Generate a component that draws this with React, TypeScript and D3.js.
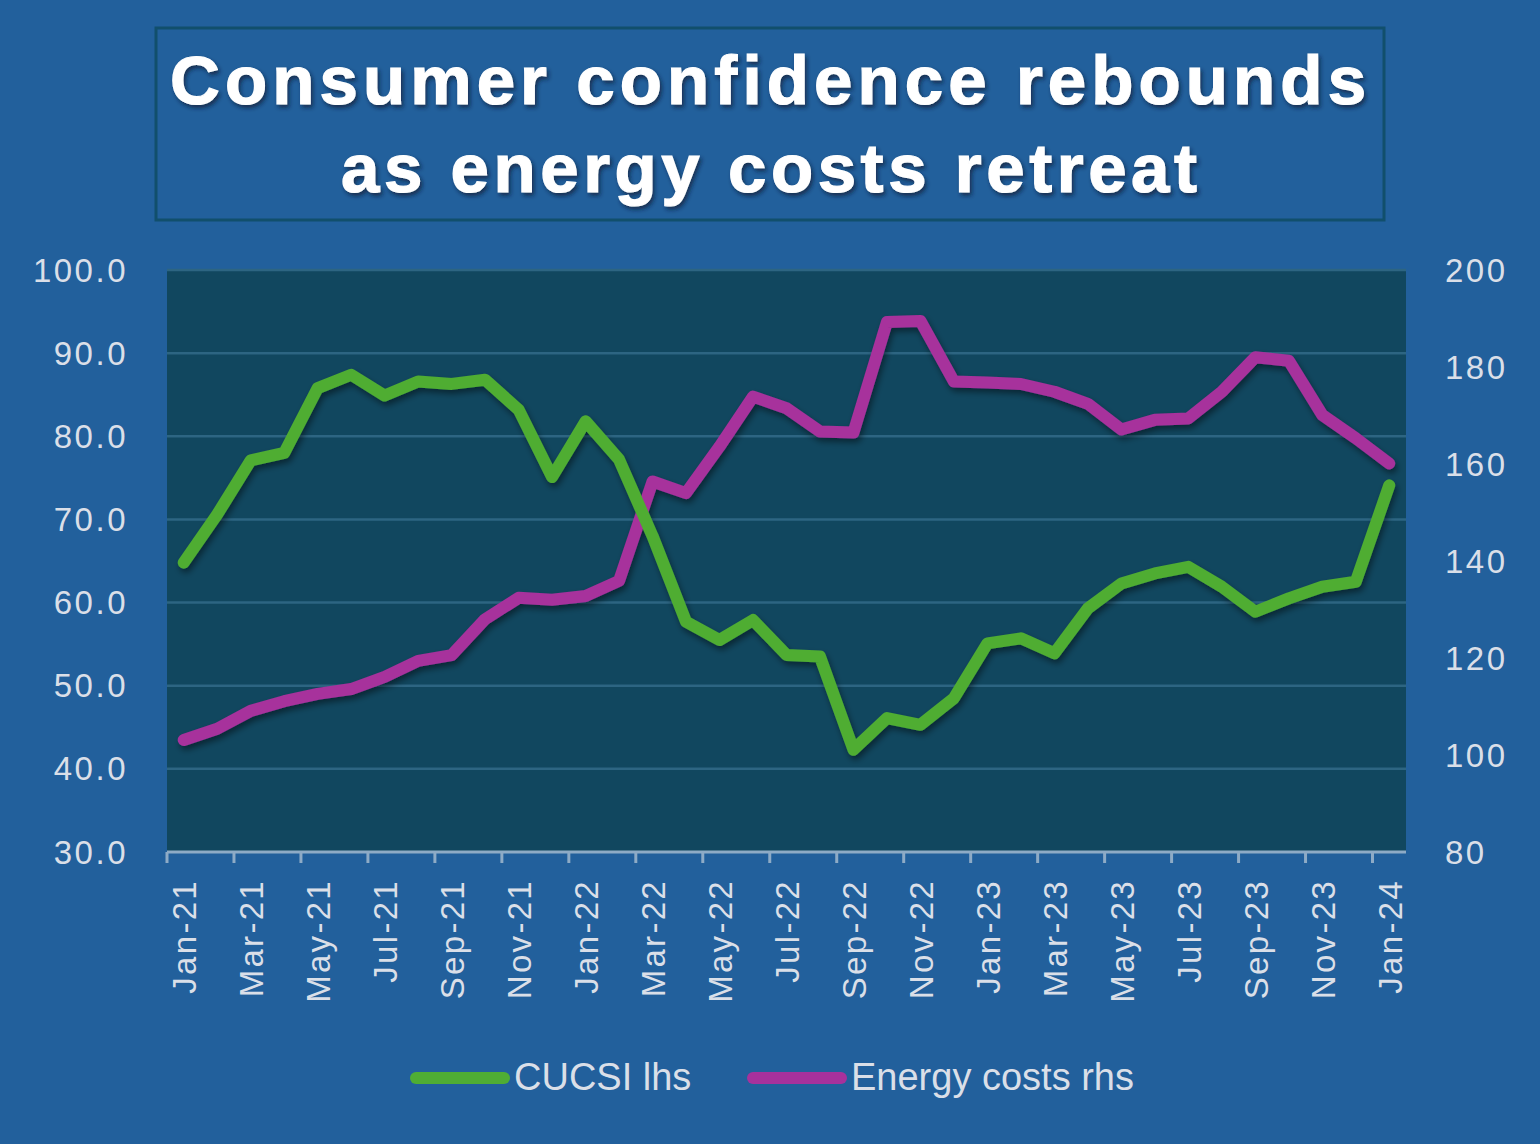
import React from "react";
import * as d3 from "d3";

const months = [
  "Jan-21", "Feb-21", "Mar-21", "Apr-21", "May-21", "Jun-21", "Jul-21", "Aug-21", "Sep-21", "Oct-21", "Nov-21", "Dec-21",
  "Jan-22", "Feb-22", "Mar-22", "Apr-22", "May-22", "Jun-22", "Jul-22", "Aug-22", "Sep-22", "Oct-22", "Nov-22", "Dec-22",
  "Jan-23", "Feb-23", "Mar-23", "Apr-23", "May-23", "Jun-23", "Jul-23", "Aug-23", "Sep-23", "Oct-23", "Nov-23", "Dec-23",
  "Jan-24",
];

// consumer confidence, left axis
const cucsi = [
  64.8, 70.6, 77.1, 78.0, 85.8, 87.4, 84.9, 86.6, 86.3, 86.8, 83.2, 75.1,
  81.8, 77.2, 68.0, 57.7, 55.5, 57.9, 53.7, 53.5, 42.3, 46.1, 45.3, 48.5,
  55.1, 55.7, 53.9, 59.3, 62.3, 63.5, 64.3, 61.9, 58.9, 60.5, 61.9, 62.5,
  74.1,
];

// energy costs index, right axis
const energy = [
  103.1, 105.4, 109.1, 111.1, 112.6, 113.6, 116.1, 119.4, 120.6, 128.0, 132.4, 132.0,
  132.8, 135.9, 156.4, 154.0, 163.6, 173.9, 171.5, 166.7, 166.5, 189.3, 189.5, 177.0,
  176.8, 176.5, 174.9, 172.4, 167.1, 169.1, 169.4, 174.9, 182.0, 181.3, 170.1, 165.3,
  160.1,
];

const leftTicks = [30, 40, 50, 60, 70, 80, 90, 100];
const rightTicks = [80, 100, 120, 140, 160, 180, 200];

const titleLines = ["Consumer confidence rebounds", "as energy costs retreat"];
const legendItems = [
  { label: "CUCSI lhs", color: "#4fad33" },
  { label: "Energy costs rhs", color: "#a7319c" },
];

const W = 1540;
const H = 1144;
const plot = { left: 167, right: 1406, top: 270, bottom: 852 };

const App: React.FC = () => {
  const x = d3.scaleBand<string>().domain(months).range([plot.left, plot.right]).padding(0);
  const yL = d3.scaleLinear().domain([30, 100]).range([plot.bottom, plot.top]);
  const yR = d3.scaleLinear().domain([80, 200]).range([plot.bottom, plot.top]);
  const cx = (m: string) => (x(m) as number) + x.bandwidth() / 2;

  const lineL = d3.line<number>().x((_, i) => cx(months[i])).y((d) => yL(d));
  const lineR = d3.line<number>().x((_, i) => cx(months[i])).y((d) => yR(d));

  const tickFont = "'Liberation Sans', Arial, sans-serif";

  return (
    <svg width={W} height={H} style={{ position: "absolute", left: 0, top: 0, display: "block" }}>
      <defs>
        <filter id="lineShadow" x="-5%" y="-5%" width="110%" height="120%">
          <feDropShadow dx="2" dy="4" stdDeviation="3" floodColor="#000" floodOpacity="0.45" />
        </filter>
        <filter id="textShadow" x="-5%" y="-20%" width="110%" height="150%">
          <feDropShadow dx="2" dy="3" stdDeviation="2" floodColor="#0a1e33" floodOpacity="0.7" />
        </filter>
      </defs>
      <rect width={W} height={H} fill="#22609c" />

      {/* title box */}
      <rect x={156} y={28} width={1228} height={192} fill="#22609c" stroke="#114f6c" strokeWidth={3} />
      <g filter="url(#textShadow)" fill="#ffffff" stroke="#ffffff" strokeWidth={1.2}
        fontFamily="'Liberation Sans', Arial, sans-serif" fontWeight="bold" fontSize={69}>
        <text x={170} y={104} textLength={1196} lengthAdjust="spacing">{titleLines[0]}</text>
        <text x={341} y={192} textLength={856} lengthAdjust="spacing">{titleLines[1]}</text>
      </g>

      {/* plot area */}
      <rect x={plot.left} y={plot.top} width={plot.right - plot.left} height={plot.bottom - plot.top} fill="#11475f" />
      {leftTicks.filter((t) => t > 30).map((t) => (
        <line key={t} x1={plot.left} x2={plot.right} y1={yL(t)} y2={yL(t)} stroke="#2d6582" strokeWidth={2.5} />
      ))}

      {/* x axis */}
      <line x1={plot.left} x2={plot.right} y1={plot.bottom} y2={plot.bottom} stroke="#8eabc6" strokeWidth={3} />
      {months.map((m, i) =>
        i % 2 === 0 ? (
          <line key={m} x1={x(m)} x2={x(m)} y1={plot.bottom} y2={plot.bottom + 11} stroke="#8eabc6" strokeWidth={3} />
        ) : null
      )}
      {months.map((m, i) =>
        i % 2 === 0 ? (
          <text
            key={m}
            transform={`translate(${cx(m) + 1},${plot.bottom + 27}) rotate(-90)`}
            textAnchor="end"
            dominantBaseline="central"
            fill="#dadfe8"
            fontFamily={tickFont}
            fontSize={33}
            letterSpacing={2.3}
          >
            {m}
          </text>
        ) : null
      )}

      {/* y axes */}
      {leftTicks.map((t) => (
        <text key={t} x={128} y={yL(t)} textAnchor="end" dominantBaseline="central" fill="#dadfe8"
          fontFamily={tickFont} fontSize={33} letterSpacing={2.5}>
          {t.toFixed(1)}
        </text>
      ))}
      {rightTicks.map((t) => (
        <text key={t} x={1445} y={yR(t)} dominantBaseline="central" fill="#dadfe8"
          fontFamily={tickFont} fontSize={33} letterSpacing={2.5}>
          {t}
        </text>
      ))}

      {/* series */}
      <g filter="url(#lineShadow)" fill="none" strokeWidth={12} strokeLinejoin="round" strokeLinecap="round">
        <path d={lineR(energy) as string} stroke={legendItems[1].color} />
        <path d={lineL(cucsi) as string} stroke={legendItems[0].color} />
      </g>

      {/* legend */}
      {legendItems.map((it, i) => {
        const lx = i === 0 ? 416 : 753;
        return (
          <g key={it.label}>
            <line x1={lx} x2={lx + 88} y1={1078} y2={1078} stroke={it.color} strokeWidth={12} strokeLinecap="round" />
            <text x={lx + 98} y={1090} fill="#dadfe8" fontFamily={tickFont} fontSize={38}>
              {it.label}
            </text>
          </g>
        );
      })}
    </svg>
  );
};

export default App;
